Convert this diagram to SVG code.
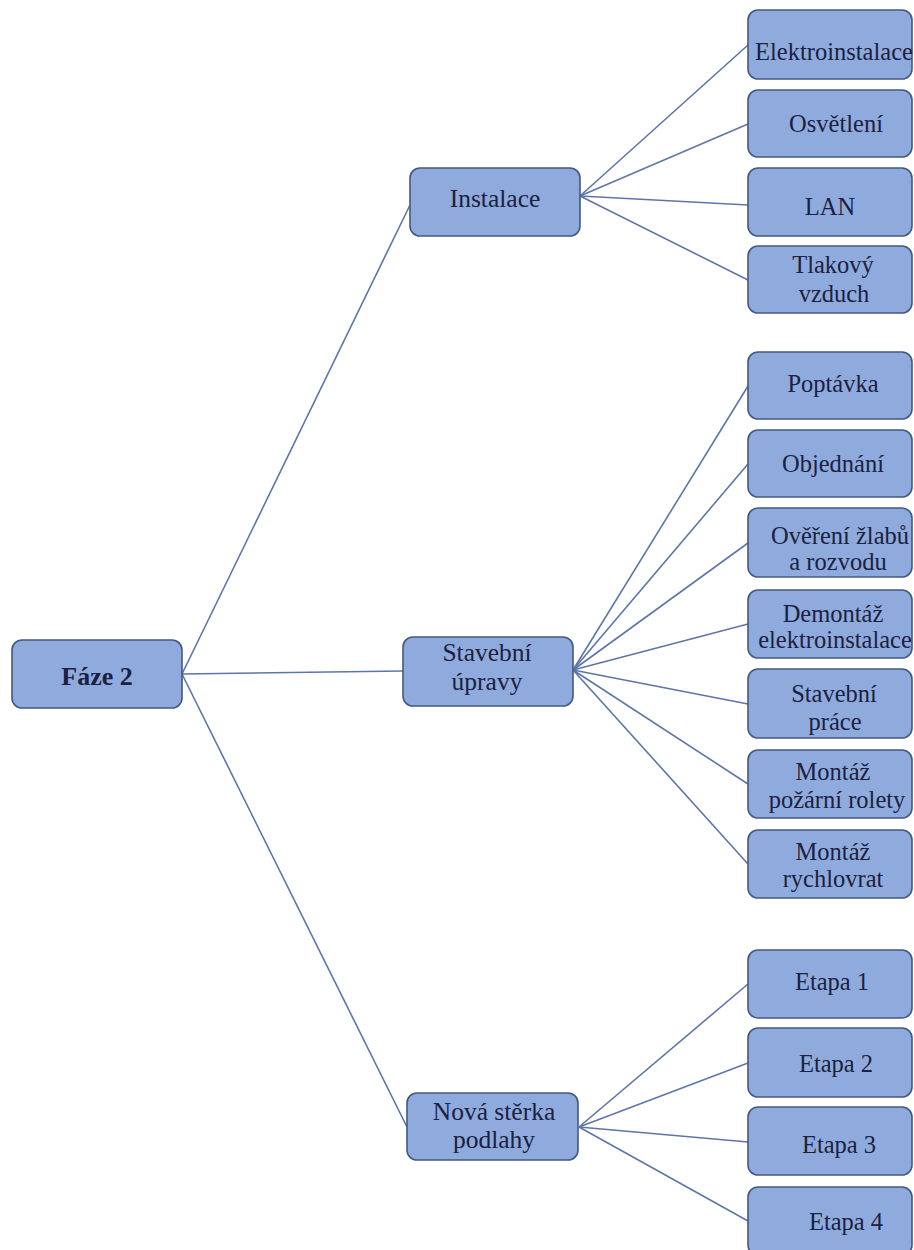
<svg xmlns="http://www.w3.org/2000/svg" width="914" height="1250" viewBox="0 0 914 1250">
<style>
.box{fill:#8faadc;stroke:#44597f;stroke-width:1.6}
.t{font-family:"Liberation Serif","Times New Roman",serif;fill:#1b2140;text-anchor:middle}
.r{font-size:24.5px}
.m{font-size:25.5px}
.b{font-size:26px;font-weight:bold}
.c line{stroke:#5d76a8;stroke-width:1.6}
</style>
<rect width="914" height="1250" fill="#ffffff"/>
<g class="c" id="connectors">
<line x1="182" y1="674" x2="410" y2="205"/>
<line x1="182" y1="674" x2="403" y2="671"/>
<line x1="182" y1="674" x2="407" y2="1127"/>
<line x1="580" y1="196" x2="748" y2="45"/>
<line x1="580" y1="196" x2="748" y2="124"/>
<line x1="580" y1="196" x2="748" y2="205"/>
<line x1="580" y1="196" x2="748" y2="280"/>
<line x1="573" y1="670" x2="748" y2="386"/>
<line x1="573" y1="670" x2="748" y2="464"/>
<line x1="573" y1="670" x2="748" y2="543"/>
<line x1="573" y1="670" x2="748" y2="624"/>
<line x1="573" y1="670" x2="748" y2="704"/>
<line x1="573" y1="670" x2="748" y2="784"/>
<line x1="573" y1="670" x2="748" y2="864"/>
<line x1="579" y1="1127" x2="748" y2="984"/>
<line x1="579" y1="1127" x2="748" y2="1063"/>
<line x1="579" y1="1127" x2="748" y2="1142"/>
<line x1="579" y1="1127" x2="748" y2="1221"/>
</g>
<g id="faze2"><rect class="box" x="12" y="640" width="170" height="68" rx="10"/><text class="t b" x="97" y="685">Fáze 2</text></g>
<g id="instalace"><rect class="box" x="410" y="168" width="170" height="68" rx="10"/><text class="t m" x="495" y="207">Instalace</text></g>
<g id="stavebni-upravy"><rect class="box" x="403" y="637" width="170" height="69" rx="10"/><text class="t m" x="487" y="661">Stavební</text><text class="t m" x="487" y="690">úpravy</text></g>
<g id="nova-sterka"><rect class="box" x="407" y="1093" width="171" height="67" rx="10"/><text class="t m" x="494" y="1120">Nová stěrka</text><text class="t m" x="494" y="1148">podlahy</text></g>
<g id="elektroinstalace"><rect class="box" x="748" y="10" width="164" height="69" rx="10"/><text class="t r" x="834" y="60">Elektroinstalace</text></g>
<g id="osvetleni"><rect class="box" x="748" y="90" width="164" height="67" rx="10"/><text class="t r" x="836" y="132">Osvětlení</text></g>
<g id="lan"><rect class="box" x="748" y="168" width="164" height="68" rx="10"/><text class="t r" x="830" y="215">LAN</text></g>
<g id="tlakovy-vzduch"><rect class="box" x="748" y="246" width="164" height="67" rx="10"/><text class="t r" x="833" y="273">Tlakový</text><text class="t r" x="834" y="302">vzduch</text></g>
<g id="poptavka"><rect class="box" x="748" y="352" width="164" height="67" rx="10"/><text class="t r" x="833" y="392">Poptávka</text></g>
<g id="objednani"><rect class="box" x="748" y="430" width="164" height="67" rx="10"/><text class="t r" x="833" y="472">Objednání</text></g>
<g id="overeni"><rect class="box" x="748" y="508" width="164" height="69" rx="10"/><text class="t r" x="840" y="544">Ověření žlabů</text><text class="t r" x="838" y="570">a rozvodu</text></g>
<g id="demontaz"><rect class="box" x="748" y="590" width="164" height="68" rx="10"/><text class="t r" x="833" y="622">Demontáž</text><text class="t r" x="835" y="648">elektroinstalace</text></g>
<g id="stavebni-prace"><rect class="box" x="748" y="669" width="164" height="69" rx="10"/><text class="t r" x="834" y="702">Stavební</text><text class="t r" x="835" y="730">práce</text></g>
<g id="montaz-rolety"><rect class="box" x="748" y="750" width="164" height="68" rx="10"/><text class="t r" x="833" y="780">Montáž</text><text class="t r" x="837" y="808">požární rolety</text></g>
<g id="montaz-rychlovrat"><rect class="box" x="748" y="830" width="164" height="68" rx="10"/><text class="t r" x="833" y="860">Montáž</text><text class="t r" x="833" y="887">rychlovrat</text></g>
<g id="etapa1"><rect class="box" x="748" y="950" width="164" height="68" rx="10"/><text class="t r" x="832" y="990">Etapa 1</text></g>
<g id="etapa2"><rect class="box" x="748" y="1028" width="164" height="69" rx="10"/><text class="t r" x="836" y="1072">Etapa 2</text></g>
<g id="etapa3"><rect class="box" x="748" y="1107" width="164" height="68" rx="10"/><text class="t r" x="839" y="1153">Etapa 3</text></g>
<g id="etapa4"><rect class="box" x="748" y="1187" width="164" height="68" rx="10"/><text class="t r" x="846" y="1230">Etapa 4</text></g>
</svg>
